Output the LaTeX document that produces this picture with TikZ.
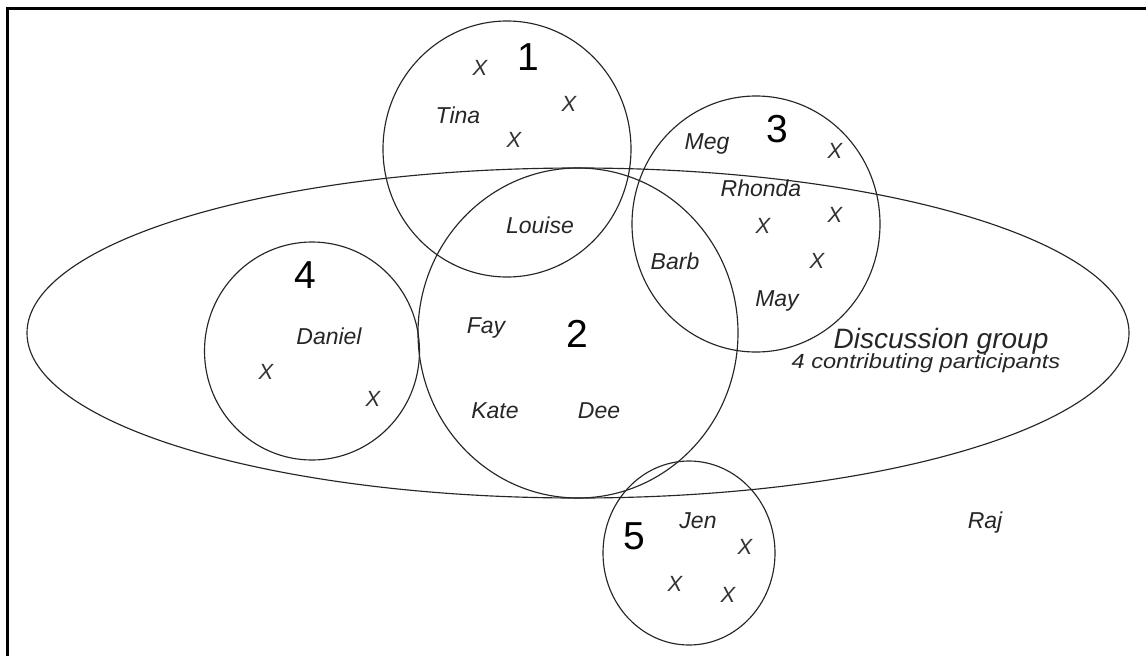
\documentclass[tikz,border=0pt]{standalone}
\usepackage{fontspec}
\setmainfont{Liberation Sans}
\usepackage{graphicx}
\begin{document}
\begin{tikzpicture}[x=1pt,y=-1pt,
  ring/.style={draw=black!85,line width=1.15pt},
  who/.style={font=\fontsize{23}{23}\selectfont\itshape, inner sep=0pt, text height=16.5pt, text depth=0pt, text=black!85},
  num/.style={font=\fontsize{39}{39}\selectfont, inner sep=0pt, text height=28pt, text depth=0pt},
  xmark/.style={font=\fontsize{22}{22}\selectfont\itshape, inner sep=0pt, text height=16pt, text depth=0pt, text=black!80}]
\useasboundingbox (0,0) rectangle (1146,656);
% frame
\draw[line width=2.4pt] (7.5,656) -- (7.5,8.5) -- (1146,8.5);
% discussion ellipse
\draw[ring] (578,333) ellipse [x radius=551, y radius=165];
% group circles
\draw[ring] (507,149) ellipse [x radius=124, y radius=128];
\draw[ring] (578,333) ellipse [x radius=160, y radius=165];
\draw[ring] (756,224) ellipse [x radius=124, y radius=128];
\draw[ring] (312,351) ellipse [x radius=107.5, y radius=109];
\draw[ring] (689,553) ellipse [x radius=86, y radius=92];
% group 1
\node[num] (g1) at (528,56) {1};
\node[xmark] (x1a) at (480,67) {X};
\node[xmark] (x1b) at (569,103) {X};
\node[xmark] (x1c) at (514,139) {X};
\node[who] (tina) at (458,115) {Tina};
\node[who] (louise) at (540,225) {Louise};
% group 3
\node[num] (g3) at (777,128) {3};
\node[who] (meg) at (707,141) {Meg};
\node[who] (rhonda) at (761,188) {Rhonda};
\node[who] (barb) at (675,261) {Barb};
\node[who] (may) at (777,298) {May};
\node[xmark] (x3a) at (835,150) {X};
\node[xmark] (x3b) at (835,214) {X};
\node[xmark] (x3c) at (763,225) {X};
\node[xmark] (x3d) at (817,260) {X};
% group 4
\node[num] (g4) at (305,274) {4};
\node[who] (daniel) at (329,336) {Daniel};
\node[xmark] (x4a) at (266,371) {X};
\node[xmark] (x4b) at (373,398) {X};
% group 2
\node[num] (g2) at (577,333) {2};
\node[who] (fay) at (486,325) {Fay};
\node[who] (kate) at (495,410) {Kate};
\node[who] (dee) at (599,410) {Dee};
% group 5
\node[num] (g5) at (634,535) {5};
\node[who] (jen) at (698,520) {Jen};
\node[xmark] (x5a) at (745,546) {X};
\node[xmark] (x5b) at (675,583) {X};
\node[xmark] (x5c) at (728,594) {X};
% others
\node[who] (raj) at (985,520) {Raj};
\node[inner sep=0pt, font=\fontsize{28}{28}\selectfont\itshape, text height=20pt, text depth=0pt, text=black!85] (disc) at (941,338) {Discussion group};
\node[inner sep=0pt, font=\fontsize{20.5}{20.5}\selectfont\itshape, text height=13.5pt, text depth=0pt, text=black!85] (contrib) at (926,362) {\scalebox{1.15}[1]{4 contributing participants}};
\end{tikzpicture}
\end{document}
